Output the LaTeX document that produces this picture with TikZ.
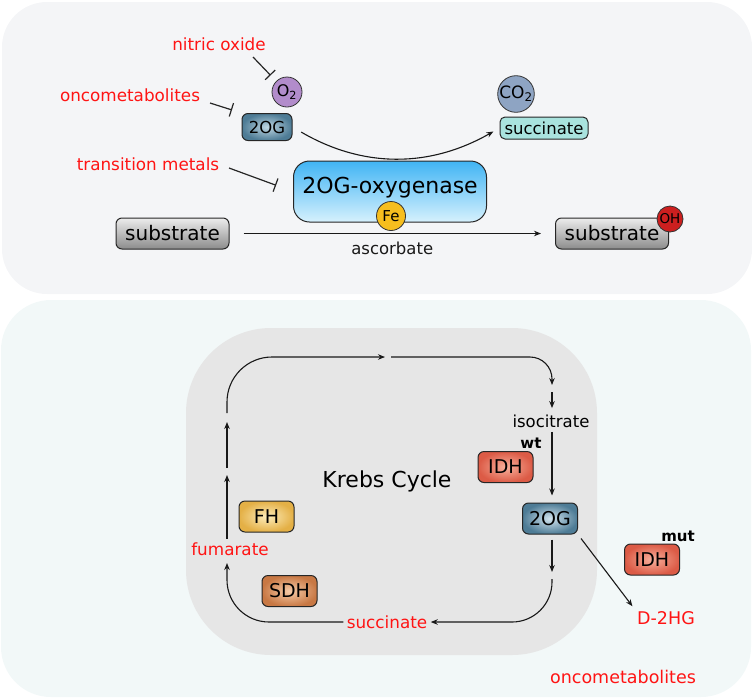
\documentclass[tikz,border=0pt]{standalone}
\usepackage{fontspec}
\setmainfont{DejaVu Sans}
\usepackage{xcolor}
\usepackage{tikz}
\usetikzlibrary{shapes,arrows.meta,positioning}
\definecolor{panelA}{HTML}{F4F5F7}
\definecolor{panelB}{HTML}{F2F8F8}
\definecolor{krebsgray}{HTML}{E6E6E6}
\definecolor{hitred}{HTML}{FF1414}
\tikzset{enz/.style={rounded corners=6pt,draw=black!85,line width=1pt,minimum width=55pt,minimum height=31pt,inner sep=0pt,font=\fontsize{19}{19}\selectfont},
  mol/.style={circle,draw=black!80,line width=0.8pt,inner sep=0pt},
  hit/.style={text=hitred,font=\fontsize{16.8}{17}\selectfont},
  lbl/.style={font=\fontsize{16.5}{17}\selectfont},
  tag/.style={font=\fontsize{15}{15}\selectfont\bfseries,inner sep=0pt},
  inh/.style={-{Bar[width=14pt]},line width=1.2pt,black!85},
  rxn/.style={->,line width=1.1pt,black!90}}

\begin{document}
\begin{tikzpicture}[x=1pt,y=-1pt,>={Stealth[length=7pt,width=5.5pt]}]
    \useasboundingbox (0,0) rectangle (752,697);
    \fill[panelA,rounded corners=45pt] (2,2) rectangle (752,294);
    \fill[panelB,rounded corners=50pt] (1,300) rectangle (751,697);
    \fill[krebsgray,rounded corners=85pt] (186,328) rectangle (597,655);

    \node[hit] (nox) at (219,44) {nitric oxide};
    \node[hit] (onco) at (130,95) {oncometabolites};
    \node[hit] (tmet) at (148,164) {transition metals};
    \node[mol,fill={rgb,255:red,178;green,140;blue,203},minimum size=30pt,font=\fontsize{16}{16}\selectfont] (o2) at (287,92) {O\textsubscript{2}};
    \node[enz,minimum width=50pt,minimum height=27pt,font=\fontsize{16.5}{17}\selectfont,inner color={rgb,255:red,190;green,214;blue,226},outer color={rgb,255:red,78;green,124;blue,150}] (og1) at (267,127) {2OG};
    \node[mol,fill={rgb,255:red,142;green,164;blue,195},minimum size=36pt,font=\fontsize{17}{17}\selectfont] (co2) at (516,94) {CO\textsubscript{2}};
    \node[enz,rounded corners=5pt,fill={rgb,255:red,169;green,227;blue,222},minimum width=88pt,minimum height=22pt,font=\fontsize{16.5}{17}\selectfont] (suc1) at (544,128) {succinate};
    \node[enz,rounded corners=16pt,minimum width=193pt,minimum height=61pt,text height=12pt,text depth=9pt,font=\fontsize{22}{22}\selectfont,top color={rgb,255:red,64;green,180;blue,244},bottom color={rgb,255:red,214;green,241;blue,253}] (oxy) at (390,191.5) {2OG-oxygenase};
    \node[mol,fill={rgb,255:red,246;green,190;blue,30},minimum size=29pt,font=\fontsize{15}{15}\selectfont] (fe) at (391,216) {Fe};
    \node[enz,minimum width=113pt,minimum height=31pt,font=\fontsize{20}{20}\selectfont,top color={rgb,255:red,236;green,236;blue,236},bottom color={rgb,255:red,140;green,140;blue,140}] (sub1) at (172.5,233.5) {substrate};
    \node[enz,minimum width=113pt,minimum height=31pt,font=\fontsize{20}{20}\selectfont,top color={rgb,255:red,236;green,236;blue,236},bottom color={rgb,255:red,140;green,140;blue,140}] (sub2) at (612,233.5) {substrate};
    \node[mol,fill={rgb,255:red,204;green,31;blue,31},minimum size=26pt,font=\fontsize{13.5}{14}\selectfont] (oh) at (670,219) {OH};

    \coordinate (noxs) at (253,57);
    \coordinate (oncs) at (210,103);
    \coordinate (tmets) at (229,168);
    \draw[inh,shorten >=8pt] (noxs) -- (o2.135);
    \draw[inh,shorten >=10pt] (oncs) -- (og1.north west);
    \draw[inh,shorten >=18pt] (tmets) -- (oxy.west);
    \draw[rxn,shorten <=10pt,shorten >=7pt] (og1.east) to[bend right=30] (suc1.west);
    \draw[rxn,shorten <=14pt,shorten >=14pt] (sub1) -- node[below=5pt,lbl]{ascorbate} (sub2);

    \node[font=\fontsize{22}{22}\selectfont] (kc) at (387,481) {Krebs Cycle};
    \node[lbl] (iso) at (551,421) {isocitrate};
    \node[enz,inner color={rgb,255:red,247;green,176;blue,156},outer color={rgb,255:red,220;green,91;blue,70}] (idhw) at (505.5,467) {IDH};
    \node[tag] (wt) at (531,443) {wt};
    \node[enz,inner color={rgb,255:red,210;green,228;blue,238},outer color={rgb,255:red,78;green,124;blue,150}] (og2) at (550,518.5) {2OG};
    \node[enz,inner color={rgb,255:red,247;green,176;blue,156},outer color={rgb,255:red,220;green,91;blue,70}] (idhm) at (652,559.5) {IDH};
    \node[tag] (mutl) at (678,536) {mut};
    \node[enz,inner color={rgb,255:red,252;green,236;blue,186},outer color={rgb,255:red,228;green,176;blue,70}] (fh) at (266.5,516.5) {FH};
    \node[enz,inner color={rgb,255:red,246;green,204;blue,168},outer color={rgb,255:red,200;green,120;blue,68}] (sdh) at (289.5,591) {SDH};
    \node[hit] (fum) at (230,549) {fumarate};
    \node[hit] (suc2) at (387,622) {succinate};
    \node[hit,font=\fontsize{17.5}{18}\selectfont] (d2hg) at (666,618) {D-2HG};
    \node[hit,font=\fontsize{17.5}{18}\selectfont] (oncb) at (623,677) {oncometabolites};

    \coordinate (k1) at (227,413);
    \coordinate (k2) at (385,357);
    \coordinate (k3) at (391,357);
    \coordinate (k4) at (552,385);
    \coordinate (k5) at (552,392);
    \coordinate (k6) at (552,572);
    \coordinate (k7) at (552,579);
    \coordinate (k8) at (227,563);
    \coordinate (k9) at (227,475);
    \coordinate (k10) at (227,468);
    \coordinate (k11) at (227,422);
    \draw[rxn,rounded corners=45pt] (k1) |- (k2);
    \draw[rxn,rounded corners=22pt] (k3) -| (k4);
    \draw[rxn,shorten >=3pt] (k5) -- (iso.north -| k5);
    \draw[rxn,shorten <=1pt,shorten >=7pt] (iso.south -| k5) -- (og2.north -| k5);
    \draw[rxn,shorten <=5pt] (og2.south -| k6) -- (k6);
    \draw[rxn,rounded corners=40pt] (k7) |- (suc2.east);
    \draw[rxn,rounded corners=42pt] (suc2.west) -| (k8);
    \draw[rxn] (fum.north -| k9) -- (k9);
    \draw[rxn] (k10) -- (k11);
    \draw[rxn,shorten <=5pt,shorten >=2pt] (og2.south east) -- (d2hg.north west);
\end{tikzpicture}
\end{document}
